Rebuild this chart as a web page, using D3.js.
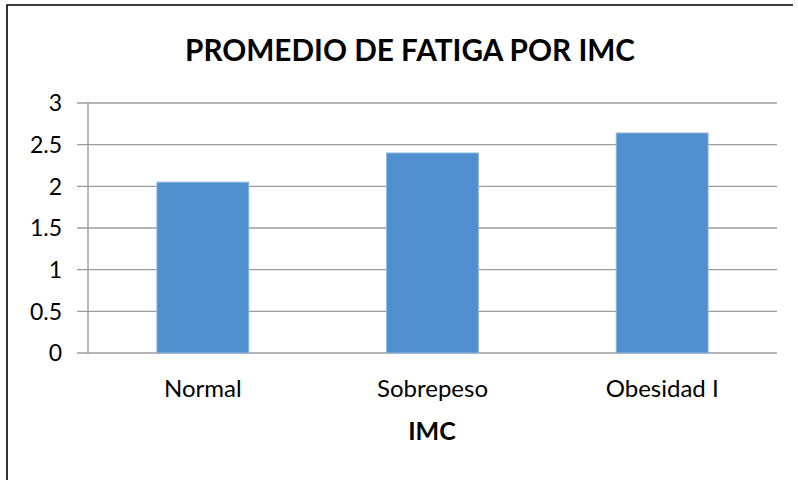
<!DOCTYPE html>
<html>
<head>
<meta charset="utf-8">
<script src="https://cdn.jsdelivr.net/npm/d3@7"></script>
<style>
html,body{margin:0;padding:0;background:#fff;}
svg{display:block;}
text{font-family:Lato,"Open Sans",sans-serif;fill:#000;}
</style>
</head>
<body>
<svg id="chart" width="798" height="480"></svg>
<script>
const categories = ["Normal", "Sobrepeso", "Obesidad I"];
const values = [2.05, 2.4, 2.64];
const yTicks = [0, 0.5, 1, 1.5, 2, 2.5, 3];
const title = "PROMEDIO DE FATIGA POR IMC";
const xTitle = "IMC";

const svg = d3.select("#chart");

// frame
svg.append("path")
  .attr("d", "M7,480 L7,5 L793,5")
  .attr("fill", "none").attr("stroke", "#000").attr("stroke-width", 1.6);

const x = d3.scaleBand().domain(categories).range([88, 777]).paddingInner(0.6).paddingOuter(0.3);
const y = d3.scaleLinear().domain([0, 3]).range([353, 103]);

// gridlines
svg.append("g").selectAll("line").data(yTicks).join("line")
  .attr("x1", 77).attr("x2", 777)
  .attr("y1", d => y(d)).attr("y2", d => y(d))
  .attr("stroke", "#9c9c9c").attr("stroke-width", 1.4);

// y axis line
svg.append("line").attr("x1", 88).attr("x2", 88).attr("y1", y(3)).attr("y2", y(0))
  .attr("stroke", "#9c9c9c").attr("stroke-width", 1.4);

// y labels
svg.append("g").selectAll("text").data(yTicks).join("text")
  .attr("x", 62).attr("y", d => y(d)).attr("dy", "0.36em")
  .attr("text-anchor", "end").attr("font-size", 23)
  .text(d => d3.format("")(d));

// bars
svg.append("g").selectAll("rect").data(values).join("rect")
  .attr("x", (d, i) => x(categories[i]))
  .attr("width", x.bandwidth())
  .attr("y", d => y(d))
  .attr("height", d => y(0) - y(d))
  .attr("fill", "#4f8fcd")
  .attr("stroke", "#8fb7e0").attr("stroke-width", 1);

// category labels
svg.append("g").selectAll("text").data(categories).join("text")
  .attr("x", d => x(d) + x.bandwidth() / 2).attr("y", 397)
  .attr("text-anchor", "middle").attr("font-size", 24)
  .text(d => d);

// axis title
svg.append("text").attr("x", 432).attr("y", 440).attr("text-anchor", "middle")
  .attr("font-size", 25).attr("font-weight", "bold").text(xTitle);

// chart title
svg.append("text").attr("x", 410).attr("y", 61).attr("text-anchor", "middle")
  .attr("font-size", 31).attr("font-weight", "bold")
  .attr("textLength", 450).attr("lengthAdjust", "spacingAndGlyphs")
  .text(title);
</script>
</body>
</html>
